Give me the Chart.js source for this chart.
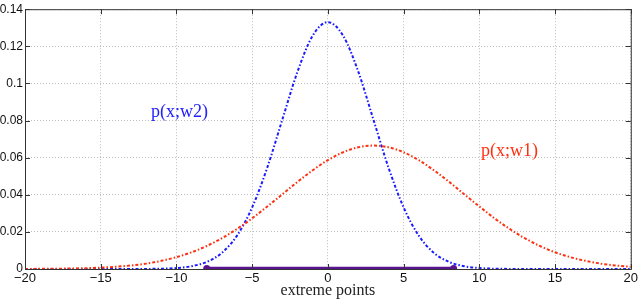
<!DOCTYPE html>
<html><head><meta charset="utf-8">
<script src="https://cdn.jsdelivr.net/npm/chart.js@4"></script>
<style>html,body{margin:0;padding:0;background:#fff}#wrap{width:640px;height:300px}</style>
</head><body><div id="wrap"><canvas id="c" width="640" height="300"></canvas></div>
<script>
const xs = [-20,-19,-18,-17,-16,-15,-14,-13,-12,-11,-10,-9,-8,-7,-6,-5,-4,-3,-2,-1,0,1,2,3,4,5,6,7,8,9,10,11,12,13,14,15,16,17,18,19,20];
const blueW2 = [0,0,0,0,0,0,0,0,0.00004,0.00016,0.0005,0.0015,0.0038,0.0087,0.0180,0.0332,0.0547,0.0807,0.1065,0.1258,0.1330,0.1258,0.1065,0.0807,0.0547,0.0332,0.0180,0.0087,0.0038,0.0015,0.0005,0.00016,0.00004,0,0,0,0,0,0,0,0];
const redW1 = [0.00004,0.00008,0.00015,0.00026,0.00044,0.00074,0.0012,0.0019,0.0029,0.0044,0.0064,0.0090,0.0124,0.0166,0.0216,0.0273,0.0337,0.0403,0.0470,0.0532,0.0587,0.0629,0.0656,0.0665,0.0656,0.0629,0.0587,0.0532,0.0470,0.0403,0.0337,0.0273,0.0216,0.0166,0.0124,0.0090,0.0064,0.0044,0.0029,0.0019,0.0012];
const extremeX = [-8.0, 8.3];
const extremeY = [0.0003, 0.0003];
const xTickValues = [-20,-15,-10,-5,0,5,10,15,20];
const xTickLabels = ['\u221220','\u221215','\u221210','\u22125','0','5','10','15','20'];
const yTickValues = [0,0.02,0.04,0.06,0.08,0.1,0.12,0.14];
const yTickLabels = ['0','0.02','0.04','0.06','0.08','0.1','0.12','0.14'];
const curveLabels = [
  {text:'p(x;w2)', x:-9.8, y:0.0845, color:'#2020ff'},
  {text:'p(x;w1)', x:12.0, y:0.0632, color:'#ff3010'}
];
const axisTitle = 'extreme points';

const pts = (a,b)=>a.map((v,i)=>({x:v,y:b[i]}));

const boxPlugin = {
  id:'box',
  afterDraw(chart){
    const {ctx, chartArea:a, scales:{x,y}} = chart;
    ctx.save();
    ctx.strokeStyle='#333'; ctx.lineWidth=1;
    ctx.strokeRect(a.left+0.5,a.top+0.5,a.right-a.left,a.bottom-a.top);
    ctx.beginPath();
    xTickValues.forEach(v=>{const p=Math.round(x.getPixelForValue(v))+0.5;
      ctx.moveTo(p,a.bottom); ctx.lineTo(p,a.bottom-5);
      ctx.moveTo(p,a.top); ctx.lineTo(p,a.top+5);});
    yTickValues.forEach(v=>{const p=Math.round(y.getPixelForValue(v))+0.5;
      ctx.moveTo(a.left,p); ctx.lineTo(a.left+5,p);
      ctx.moveTo(a.right,p); ctx.lineTo(a.right-5,p);});
    ctx.stroke();
    ctx.font='18px "Liberation Serif", "DejaVu Serif", serif';
    ctx.textAlign='center'; ctx.textBaseline='middle';
    curveLabels.forEach(l=>{ctx.fillStyle=l.color; ctx.fillText(l.text, x.getPixelForValue(l.x), y.getPixelForValue(l.y));});
    ctx.restore();
  }
};

new Chart(document.getElementById('c'), {
  type:'scatter',
  data:{datasets:[
    {data:pts(xs,redW1), showLine:true, borderColor:'#ff3010', borderWidth:2, borderDash:[3,2,1.5,2], pointRadius:0, cubicInterpolationMode:'monotone'},
    {data:pts(xs,blueW2), showLine:true, borderColor:'#1a1aff', borderWidth:2, borderDash:[3,2,1.5,2], pointRadius:0, cubicInterpolationMode:'monotone'},
    {data:pts(extremeX,extremeY), showLine:true, borderColor:'#5a1490', backgroundColor:'#5a1490', borderWidth:3.5, pointRadius:3.5, pointBorderWidth:0}
  ]},
  options:{
    responsive:false, animation:false, events:[],
    layout:{padding:{top:4,right:9,left:0,bottom:0}},
    plugins:{legend:{display:false}, tooltip:{enabled:false}},
    scales:{
      x:{type:'linear', min:-20, max:20,
        afterFit(s){s.height=31;},
        afterBuildTicks(s){s.ticks=xTickValues.map(v=>({value:v}));},
        ticks:{padding:2, color:'#111', font:{family:'"Liberation Sans", Arial, sans-serif', size:13}, maxRotation:0,
          callback:(v)=>xTickLabels[xTickValues.indexOf(v)]},
        grid:{color:'#bdbdbd', drawTicks:false, lineWidth:1},
        border:{display:false, dash:[1,2]},
        title:{display:true, text:axisTitle, color:'#222', padding:{top:0,bottom:0}, font:{family:'"Liberation Serif", "DejaVu Serif", serif', size:16, lineHeight:1.1}}
      },
      y:{type:'linear', min:0, max:0.14,
        afterFit(s){s.width=25;},
        afterBuildTicks(s){s.ticks=yTickValues.map(v=>({value:v}));},
        ticks:{padding:2, color:'#111', font:{family:'"Liberation Sans", Arial, sans-serif', size:12},
          callback:(v)=>yTickLabels[yTickValues.findIndex(t=>Math.abs(t-v)<1e-9)]},
        grid:{color:'#bdbdbd', drawTicks:false, lineWidth:1},
        border:{display:false, dash:[1,2]}
      }
    }
  },
  plugins:[boxPlugin]
});
</script></body></html>
